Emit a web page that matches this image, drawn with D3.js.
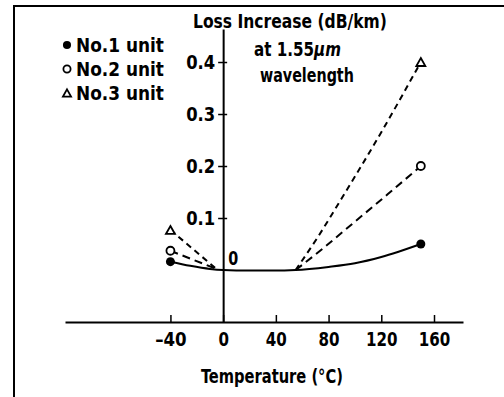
<!DOCTYPE html>
<html>
<head>
<meta charset="utf-8">
<script src="https://cdn.jsdelivr.net/npm/d3@7"></script>
<style>
  html, body { margin: 0; padding: 0; background: #fff; }
  svg { display: block; }
  text { font-family: "DejaVu Sans Condensed", "DejaVu Sans", "Liberation Sans", Arial, sans-serif; font-stretch: condensed; font-weight: bold; fill: #000; }
</style>
</head>
<body>
<svg id="chart" width="504" height="397"></svg>
<script>
// ---- data ----
const xTicks = [-40, 0, 40, 80, 120, 160];
const yTicks = [0.1, 0.2, 0.3, 0.4];
const yTickLabels = ["0.1", "0.2", "0.3", "0.4"];

const seriesNames = ["No.1 unit", "No.2 unit", "No.3 unit"];
const seriesMarkers = ["filled", "open", "triangle"];

// No.1 unit: solid curve through whole range
const unit1Temp = [-40, -25, -10, 0, 20, 38, 55, 80, 100, 120, 150];
const unit1Loss = [0.016, 0.008, 0.002, 0, -0.001, -0.001, 0, 0.006, 0.013, 0.025, 0.05];
// No.2 unit: dashed segments (low side and high side)
const unit2LowTemp = [-40, -6];
const unit2LowLoss = [0.037, 0.003];
const unit2HighTemp = [55, 75, 100, 125, 150];
const unit2HighLoss = [0, 0.04, 0.093, 0.146, 0.2];
// No.3 unit: dashed segments
const unit3LowTemp = [-40, -6];
const unit3LowLoss = [0.077, 0.004];
const unit3HighTemp = [55, 72, 90, 120, 150];
const unit3HighLoss = [0, 0.064, 0.138, 0.265, 0.4];
// measured points (markers)
const markerTemp = [-40, 150];
const unit1Points = [0.016, 0.05];
const unit2Points = [0.037, 0.2];
const unit3Points = [0.077, 0.4];

// ---- drawing ----
const svg = d3.select("#chart");
const FS = "20px";
const charW = 10.5; // approximate condensed glyph advance

// place a text so that it starts at (x, y) and spans `width` px (horizontal scale)
function fitText(sel, x, y, width) {
  sel.attr("x", 0).attr("y", 0);
  const natural = sel.node().getComputedTextLength();
  const k = width / natural;
  sel.attr("transform", `translate(${x},${y}) scale(${k},1)`);
  return sel;
}

// frame (left and top edges visible)
svg.append("line").attr("x1", 14).attr("y1", 6).attr("x2", 14).attr("y2", 397)
  .attr("stroke", "#000").attr("stroke-width", 2);
svg.append("line").attr("x1", 13).attr("y1", 6).attr("x2", 504).attr("y2", 6)
  .attr("stroke", "#000").attr("stroke-width", 2);

const x = d3.scaleLinear().domain([-120, 182]).range([65, 463]);
const y = d3.scaleLinear().domain([-0.1, 0.4635]).range([322, 29]);

// X axis (at y = -0.1), ticks pointing up
const xAxis = svg.append("g")
  .attr("transform", `translate(0,${y(-0.1)})`)
  .call(d3.axisBottom(x).tickValues(xTicks).tickSizeInner(-7).tickSizeOuter(0).tickPadding(10)
    .tickFormat(d => d < 0 ? "\u2013" + Math.abs(d) : String(d)));
xAxis.select(".domain").attr("stroke", "#000").attr("stroke-width", 2);
xAxis.selectAll(".tick line").attr("stroke", "#000").attr("stroke-width", 1.5);
xAxis.selectAll(".tick text").style("font-size", FS).attr("fill", "#000")
  .attr("textLength", function () { return this.textContent.length * charW; })
  .attr("lengthAdjust", "spacingAndGlyphs");

// Y axis at x = 0
const yAxis = svg.append("g")
  .attr("transform", `translate(${x(0)},0)`)
  .call(d3.axisLeft(y).tickValues(yTicks).tickSizeInner(5).tickSizeOuter(0).tickPadding(3)
    .tickFormat((d, i) => yTickLabels[i]));
yAxis.select(".domain").attr("stroke", "#000").attr("stroke-width", 2);
yAxis.selectAll(".tick line").attr("stroke", "#000").attr("stroke-width", 1.5);
yAxis.selectAll(".tick text").style("font-size", FS).attr("fill", "#000")
  .attr("textLength", 29).attr("lengthAdjust", "spacingAndGlyphs");
// right half of the crossing ticks
const yAxisR = svg.append("g")
  .attr("transform", `translate(${x(0)},0)`)
  .call(d3.axisRight(y).tickValues(yTicks).tickSizeInner(4).tickSizeOuter(0).tickFormat(""));
yAxisR.select(".domain").remove();
yAxisR.selectAll(".tick line").attr("stroke", "#000").attr("stroke-width", 1.5);

// "0" label right of axis
svg.append("text").attr("x", x(0) + 5).attr("y", y(0) - 5)
  .style("font-size", FS).attr("textLength", 10).attr("lengthAdjust", "spacingAndGlyphs").text("0");

// lines
const zip = (xs, ys) => xs.map((t, i) => [t, ys[i]]);
const curve = d3.line().x(d => x(d[0])).y(d => y(d[1])).curve(d3.curveMonotoneX);
const straight = d3.line().x(d => x(d[0])).y(d => y(d[1]));

svg.append("path").attr("d", curve(zip(unit1Temp, unit1Loss)))
  .attr("fill", "none").attr("stroke", "#000").attr("stroke-width", 2);

const dash2 = "8,5", dash3 = "6,4.5";
svg.append("path").attr("d", straight(zip(unit2LowTemp, unit2LowLoss)))
  .attr("fill", "none").attr("stroke", "#000").attr("stroke-width", 2).attr("stroke-dasharray", dash2);
svg.append("path").attr("d", curve(zip(unit2HighTemp, unit2HighLoss)))
  .attr("fill", "none").attr("stroke", "#000").attr("stroke-width", 2).attr("stroke-dasharray", dash2);
svg.append("path").attr("d", straight(zip(unit3LowTemp, unit3LowLoss)))
  .attr("fill", "none").attr("stroke", "#000").attr("stroke-width", 2).attr("stroke-dasharray", dash3);
svg.append("path").attr("d", curve(zip(unit3HighTemp, unit3HighLoss)))
  .attr("fill", "none").attr("stroke", "#000").attr("stroke-width", 2).attr("stroke-dasharray", dash3);

// marker drawing
function marker(g, type, cx, cy, s) {
  if (type === "filled") {
    g.append("circle").attr("cx", cx).attr("cy", cy).attr("r", 4.5 * s).attr("fill", "#000");
  } else if (type === "open") {
    g.append("circle").attr("cx", cx).attr("cy", cy).attr("r", 4 * s)
      .attr("fill", "#fff").attr("stroke", "#000").attr("stroke-width", 1.8);
  } else {
    const h = 8 * s, w = 9 * s;
    g.append("path")
      .attr("d", `M${cx},${cy - h / 2}L${cx + w / 2},${cy + h / 2}L${cx - w / 2},${cy + h / 2}Z`)
      .attr("fill", "#fff").attr("stroke", "#000").attr("stroke-width", 1.8);
  }
}
const pointSets = [unit1Points, unit2Points, unit3Points];
pointSets.forEach((vals, si) => {
  vals.forEach((v, i) => marker(svg, seriesMarkers[si], x(markerTemp[i]), y(v), 1));
});

// legend
const legendY = [45, 69, 93];
seriesNames.forEach((name, i) => {
  marker(svg, seriesMarkers[i], 67, legendY[i], 0.9);
  fitText(svg.append("text").style("font-size", FS).text(name), 76, legendY[i] + 7, 88);
});

// title block
fitText(svg.append("text").style("font-size", FS).text("Loss Increase (dB/km)"), 193, 28, 194);
const t2 = svg.append("text").style("font-size", FS);
t2.append("tspan").text("at 1.55");
t2.append("tspan").style("font-style", "italic").text("\u03bcm");
fitText(t2, 254, 56, 87);
fitText(svg.append("text").style("font-size", FS).text("wavelength"), 260, 82, 94);

// x axis title
fitText(svg.append("text").style("font-size", FS).text("Temperature (\u00b0C)"), 201, 383, 142);
</script>
</body>
</html>
